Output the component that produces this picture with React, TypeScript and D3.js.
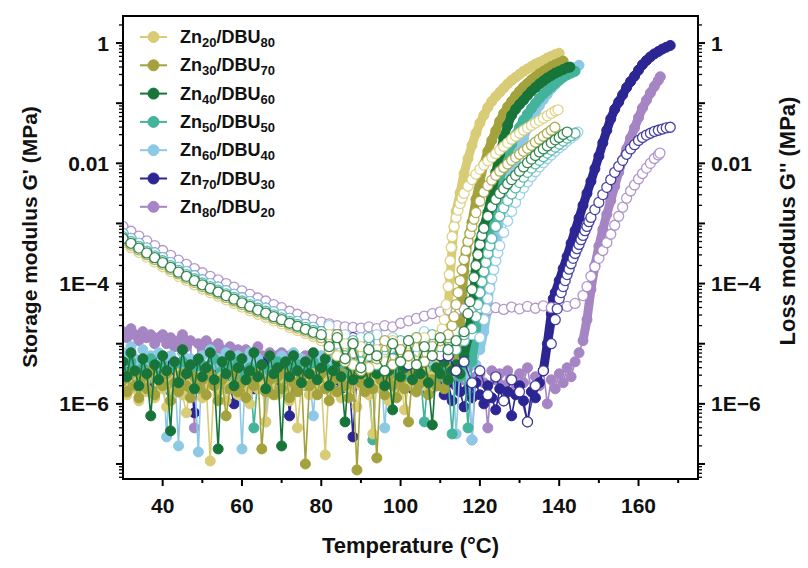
import React from 'react';
import * as d3 from 'd3';

type Pt = [number, number];

// temperature grids (°C) for the low-temperature parts
const gridT1 = [30, 31, 32, 33, 34, 35, 36, 37, 38, 39, 40, 41, 42, 43, 44, 45, 46, 47, 48, 49, 50, 51, 52, 53, 54, 55, 56, 57, 58, 59, 60, 61, 62, 63, 64, 65, 66, 67, 68, 69, 70, 71, 72, 73, 74, 75, 76, 77, 78, 79, 80, 81, 82, 83, 84, 85, 86, 87, 88, 89, 90, 91, 92, 93, 94, 95, 96, 97, 98, 99, 100, 101, 102, 103, 104, 105, 106, 107, 108, 109, 110, 111, 112, 113, 114, 115, 116, 117, 118, 119, 120, 121, 122, 123, 124, 125, 126, 127, 128, 129, 130, 131, 132, 133, 134, 135, 136, 137, 138, 139, 140, 141, 142, 143, 144, 145, 146];
const gridT2 = [30, 32, 34, 36, 38, 40, 42, 44, 46, 48, 50, 52, 54, 56, 58, 60, 62, 64, 66, 68, 70, 72, 74, 76, 78, 80, 82, 84, 86, 88, 90, 92, 94, 96, 98, 100, 102, 104, 106, 108, 110, 112, 114, 116, 118, 120, 122, 124, 126, 128, 130, 132, 134, 136, 138, 140, 142, 144, 146];

// all values: log10 of modulus in MPa
// ---- storage modulus G' (filled symbols), base on gridT1 ----
const zn20StorageBase = [-5.7, -5.85, -5.55, -5.75, -5.95, -5.6, -5.8, -5.5, -5.9, -5.65, -5.75, -6.05, -5.6, -5.8, -5.5, -5.85, -6.15, -5.65, -5.75, -5.55, -5.9, -5.7, -6.95, -5.6, -5.8, -5.55, -5.95, -5.7, -5.5, -5.85, -5.65, -5.8, -6.0, -5.55, -5.75, -5.6, -6.3, -5.7, -5.5, -5.85, -5.6, -5.75, -5.95, -5.55, -6.4, -5.7, -5.6, -5.85, -5.5, -5.75, -5.65, -6.85, -5.6, -5.8, -5.5, -5.9, -5.65, -5.75, -5.55, -6.05, -5.7, -5.5, -5.85, -6.5, -5.6, -5.75, -5.5, -5.95, -5.65, -5.8, -5.55, -6.1, -5.7, -5.5, -5.8, -5.6, -5.45, -5.75, -5.55, -5.4, -5.3];
const zn20StorageRise: Pt[] = [[111, -5.0], [112, -4.4], [112.5, -3.9], [113, -3.4], [113.5, -3.05], [114, -2.8], [115, -2.49], [116, -2.17], [117, -1.92], [118, -1.7], [119, -1.5], [120, -1.33], [121, -1.2], [122, -1.07], [123, -0.97], [124, -0.89], [125, -0.82], [126, -0.75], [127, -0.68], [128, -0.62], [129, -0.57], [130, -0.52], [131, -0.47], [132, -0.43], [133, -0.39], [134, -0.35], [135, -0.32], [136, -0.29], [137, -0.25], [138, -0.22], [139, -0.19], [140, -0.17]];

const zn30StorageBase = [-5.6, -5.8, -5.5, -5.7, -5.9, -5.55, -5.75, -5.45, -5.85, -5.6, -5.7, -5.5, -5.95, -5.65, -5.8, -5.5, -5.7, -5.9, -5.55, -5.75, -5.6, -5.85, -5.5, -5.7, -5.95, -5.6, -6.2, -5.75, -5.5, -5.8, -5.65, -5.9, -5.55, -5.7, -5.5, -6.75, -5.8, -5.6, -5.85, -5.55, -5.75, -5.5, -5.9, -5.65, -5.8, -5.55, -7.0, -5.7, -5.6, -5.85, -5.5, -5.75, -5.95, -5.6, -5.8, -5.5, -5.7, -5.9, -5.55, -7.1, -5.65, -5.8, -5.5, -5.75, -6.9, -5.6, -5.85, -5.55, -5.7, -5.9, -5.6, -5.75, -6.3, -5.5, -5.8, -5.65, -5.55, -5.85, -5.6, -5.7, -5.5, -5.75, -5.55, -5.4, -5.2];
const zn30StorageRise: Pt[] = [[115, -4.7], [115.5, -4.2], [116, -3.8], [116.5, -3.5], [117, -3.3], [117.5, -3.16], [118, -2.98], [119, -2.6], [120, -2.3], [121, -2.02], [122, -1.8], [123, -1.62], [124, -1.46], [125, -1.3], [126, -1.17], [127, -1.06], [128, -0.97], [129, -0.88], [130, -0.8], [131, -0.73], [132, -0.67], [133, -0.61], [134, -0.56], [135, -0.51], [136, -0.47], [137, -0.43], [138, -0.39], [139, -0.36], [140, -0.33], [141, -0.3]];

const zn40StorageBase = [-5.3, -5.55, -5.15, -5.45, -5.7, -5.25, -5.5, -6.2, -5.35, -5.6, -5.2, -5.45, -6.45, -5.3, -5.65, -5.1, -5.5, -5.35, -5.75, -5.25, -5.55, -5.4, -5.15, -5.6, -6.75, -5.3, -5.5, -5.2, -5.7, -5.4, -5.25, -5.6, -5.45, -5.15, -5.55, -5.35, -5.75, -5.2, -5.5, -5.4, -6.7, -5.3, -5.55, -5.2, -5.45, -5.65, -5.3, -5.5, -5.15, -5.6, -5.4, -5.25, -5.7, -5.45, -5.3, -5.55, -6.3, -5.35, -5.6, -5.2, -5.5, -5.4, -5.65, -5.25, -5.5, -5.35, -5.7, -5.45, -6.1, -5.3, -5.55, -5.4, -5.2, -5.6, -5.35, -5.5, -5.25, -5.65, -6.35, -5.4, -5.5, -5.3, -5.6, -5.45, -5.35, -5.5, -5.2];
const zn40StorageRise: Pt[] = [[117, -4.9], [118, -4.5], [118.5, -4.1], [119, -3.8], [119.5, -3.5], [120, -3.3], [121, -3.05], [122, -2.82], [123, -2.5], [124, -2.15], [125, -1.85], [126, -1.58], [127, -1.37], [128, -1.2], [129, -1.1], [130, -1.02], [131, -0.95], [132, -0.87], [133, -0.8], [134, -0.74], [135, -0.68], [136, -0.63], [137, -0.58], [138, -0.54], [139, -0.5], [140, -0.47], [141, -0.44], [142, -0.41], [142.7, -0.4]];

const zn50StorageBase = [-5.45, -5.65, -5.3, -5.55, -5.75, -5.4, -5.6, -5.25, -5.5, -5.7, -5.35, -5.55, -5.8, -5.4, -5.6, -5.3, -5.5, -5.75, -5.45, -5.6, -5.35, -5.7, -5.5, -5.25, -5.6, -5.45, -5.75, -5.4, -5.55, -5.3, -5.65, -5.5, -5.4, -6.4, -5.55, -5.35, -5.7, -5.45, -5.6, -5.3, -5.5, -5.75, -5.4, -5.6, -5.35, -5.55, -5.7, -5.45, -5.3, -5.6, -5.5, -5.4, -5.7, -5.55, -5.35, -5.6, -5.45, -5.75, -5.5, -5.4, -5.6, -5.35, -5.55, -6.6, -5.45, -5.7, -5.4, -5.6, -5.5, -5.35, -5.65, -5.45, -5.55, -5.3, -5.6, -5.5, -6.3, -5.45, -5.65, -5.4, -5.55, -5.35, -5.6, -6.5, -5.45, -5.55, -5.35, -6.4, -5.3];
const zn50StorageRise: Pt[] = [[119, -4.8], [120, -4.3], [120.5, -3.9], [121, -3.6], [122, -3.2], [123, -2.85], [124, -2.55], [125, -2.28], [126, -2.05], [127, -1.85], [128, -1.68], [129, -1.53], [130, -1.4], [131, -1.28], [132, -1.18], [133, -1.09], [134, -1.0], [135, -0.92], [136, -0.85], [137, -0.79], [138, -0.73], [139, -0.67], [140, -0.62], [141, -0.57], [142, -0.53], [143, -0.5], [144, -0.47]];

const zn60StorageBase = [-5.15, -5.3, -5.05, -5.25, -5.4, -5.1, -5.35, -5.2, -5.45, -5.15, -5.3, -6.55, -5.2, -5.4, -6.7, -5.15, -5.35, -5.25, -5.5, -6.8, -5.2, -5.4, -5.1, -5.35, -5.25, -5.5, -5.15, -5.3, -5.45, -5.2, -6.75, -5.3, -5.15, -5.4, -5.25, -5.5, -6.3, -5.2, -5.35, -5.45, -5.2, -5.3, -5.5, -5.15, -5.4, -5.25, -5.35, -5.5, -6.2, -5.3, -5.2, -5.45, -5.3, -5.15, -5.4, -5.55, -5.25, -5.35, -5.2, -5.45, -5.3, -5.5, -5.2, -5.4, -5.25, -5.35, -6.4, -5.5, -5.3, -5.2, -5.45, -5.3, -5.55, -5.25, -5.4, -5.35, -5.5, -5.2, -5.45, -5.3, -5.5, -5.35, -5.45, -5.3, -6.5, -5.4, -5.55, -5.3, -6.6, -5.35, -5.1];
const zn60StorageRise: Pt[] = [[121, -4.8], [122, -4.4], [122.5, -4.0], [123, -3.7], [124, -3.3], [125, -2.95], [126, -2.65], [127, -2.38], [128, -2.15], [129, -1.95], [130, -1.76], [131, -1.58], [132, -1.42], [133, -1.28], [134, -1.15], [135, -1.04], [136, -0.94], [137, -0.85], [138, -0.76], [139, -0.69], [140, -0.62], [141, -0.56], [142, -0.51], [143, -0.46], [144, -0.41], [145, -0.37]];

const zn70StorageBase = [-5.4, -5.6, -5.3, -5.55, -5.7, -5.35, -5.5, -5.65, -5.25, -5.45, -5.6, -5.35, -5.75, -5.45, -5.55, -5.3, -5.65, -5.5, -6.15, -5.4, -5.55, -5.7, -5.35, -5.5, -5.6, -5.3, -5.45, -5.7, -6.0, -5.5, -5.35, -5.6, -5.5, -5.75, -5.4, -5.55, -5.3, -5.65, -5.45, -5.6, -5.5, -5.35, -6.2, -5.55, -5.7, -5.4, -5.6, -5.45, -5.75, -5.5, -5.4, -5.65, -5.5, -5.35, -5.6, -5.75, -5.45, -5.55, -6.55, -5.5, -5.6, -5.4, -5.7, -5.5, -5.35, -5.65, -5.55, -5.45, -5.7, -5.5, -5.4, -5.6, -5.55, -5.75, -5.45, -5.65, -5.5, -5.8, -5.55, -5.7, -5.6, -5.85, -5.65, -5.95, -5.7, -5.8, -6.05, -5.75, -5.9, -5.65, -5.85, -6.0, -5.7, -5.9, -6.1, -5.75, -5.95, -5.8, -6.2, -5.85, -5.7, -5.95, -6.3, -5.8, -5.9, -5.65, -5.45];
const zn70StorageRise: Pt[] = [[137, -5.0], [138, -4.5], [138.5, -4.25], [139, -4.15], [140, -3.95], [141, -3.75], [142, -3.55], [143, -3.33], [144, -3.12], [145, -2.91], [146, -2.7], [147, -2.5], [148, -2.3], [149, -2.09], [150, -1.88], [151, -1.66], [152, -1.45], [153, -1.26], [154, -1.1], [155, -0.98], [156, -0.86], [157, -0.74], [158, -0.64], [159, -0.55], [160, -0.45], [161, -0.36], [162, -0.29], [163, -0.23], [164, -0.18], [165, -0.14], [166, -0.1], [167, -0.07], [168, -0.04]];

const zn80StorageBase = [-4.8, -4.9, -4.75, -4.85, -4.95, -4.8, -4.9, -4.85, -5.0, -4.9, -4.85, -5.0, -4.9, -5.05, -4.95, -4.85, -5.05, -4.95, -6.4, -5.0, -5.1, -4.95, -5.05, -5.15, -5.0, -5.1, -5.2, -5.05, -5.15, -5.1, -5.2, -5.1, -5.25, -5.15, -5.05, -5.2, -5.3, -5.15, -5.25, -5.2, -5.15, -5.3, -5.2, -5.35, -5.25, -5.3, -5.2, -5.4, -5.3, -5.25, -5.35, -5.3, -5.45, -5.3, -5.4, -5.35, -5.5, -5.3, -5.4, -5.45, -5.35, -5.5, -5.4, -5.3, -5.45, -5.55, -5.4, -5.5, -5.35, -5.45, -5.5, -5.4, -5.6, -5.45, -5.55, -5.4, -5.5, -5.65, -5.45, -5.55, -5.4, -5.6, -5.5, -5.45, -5.65, -5.5, -5.6, -5.4, -6.6, -5.55, -5.5, -5.65, -6.4, -5.45, -5.6, -5.5, -5.7, -5.45, -5.6, -5.75, -5.5, -5.65, -5.4, -5.8, -5.55, -5.7, -5.45, -6.0, -5.6, -5.75, -5.5, -5.65, -5.4, -5.55, -5.3, -5.15, -4.95];
const zn80StorageRise: Pt[] = [[147, -4.6], [148, -4.1], [149, -3.7], [150, -3.38], [151, -3.1], [152, -2.85], [153, -2.62], [154, -2.38], [155, -2.15], [156, -1.95], [157, -1.76], [158, -1.58], [159, -1.41], [160, -1.24], [161, -1.08], [162, -0.95], [163, -0.83], [164, -0.72], [165, -0.62], [165.5, -0.56]];

// ---- loss modulus G'' (open symbols), base on gridT2 ----
const zn20LossBase = [-3.32, -3.4, -3.48, -3.56, -3.64, -3.72, -3.8, -3.88, -3.95, -4.02, -4.09, -4.15, -4.21, -4.27, -4.33, -4.39, -4.45, -4.51, -4.56, -4.62, -4.67, -4.73, -4.78, -4.83, -4.88, -4.95, -4.85, -5.2, -5.0, -5.35, -5.05, -5.4, -5.1, -5.3, -4.95, -5.25, -5.0, -5.3, -4.9, -5.15, -4.85];
const zn20LossRise: Pt[] = [[110.5, -4.75], [111, -4.6], [111.5, -4.35], [112, -4.05], [112.25, -3.85], [112.5, -3.62], [112.75, -3.4], [113, -3.22], [113.5, -3.05], [114, -2.9], [114.5, -2.78], [115, -2.67], [115.5, -2.58], [116, -2.5], [117, -2.38], [118, -2.27], [119, -2.18], [120, -2.1], [121, -2.03], [122, -1.96], [123, -1.9], [124, -1.84], [125, -1.78], [126, -1.72], [127, -1.66], [128, -1.6], [129, -1.55], [130, -1.5], [131, -1.45], [132, -1.41], [133, -1.37], [134, -1.33], [135, -1.29], [136, -1.25], [137, -1.21], [138, -1.17], [139, -1.13], [139.7, -1.11]];

const zn30LossBase = [-3.28, -3.36, -3.44, -3.52, -3.6, -3.68, -3.76, -3.84, -3.91, -3.98, -4.05, -4.11, -4.17, -4.23, -4.29, -4.35, -4.41, -4.47, -4.52, -4.58, -4.63, -4.69, -4.74, -4.79, -4.84, -4.9, -5.1, -4.85, -5.3, -5.0, -5.45, -5.1, -5.25, -4.95, -5.35, -5.1, -5.2, -4.9, -5.3, -5.05, -4.95, -4.85];
const zn30LossRise: Pt[] = [[113, -4.7], [113.5, -4.55], [114, -4.35], [114.5, -4.15], [115, -3.95], [115.5, -3.77], [116, -3.6], [116.5, -3.45], [117, -3.3], [117.5, -3.17], [118, -3.05], [118.5, -2.93], [119, -2.82], [120, -2.63], [121, -2.48], [122, -2.37], [123, -2.28], [124, -2.2], [125, -2.13], [126, -2.07], [127, -2.01], [128, -1.95], [129, -1.9], [130, -1.85], [131, -1.8], [132, -1.75], [133, -1.7], [134, -1.65], [135, -1.6], [136, -1.55], [137, -1.5], [138, -1.45], [138.9, -1.4]];

const zn40LossBase = [-3.25, -3.33, -3.41, -3.49, -3.57, -3.65, -3.73, -3.81, -3.88, -3.95, -4.02, -4.08, -4.14, -4.2, -4.26, -4.32, -4.38, -4.44, -4.49, -4.55, -4.6, -4.66, -4.71, -4.76, -4.81, -4.85, -5.05, -4.9, -5.25, -5.0, -5.4, -5.1, -5.2, -5.45, -5.0, -5.3, -4.95, -5.35, -5.05, -5.2, -4.9, -5.1, -4.95, -4.8];
const zn40LossRise: Pt[] = [[117, -4.5], [117.5, -4.3], [118, -4.1], [118.5, -3.9], [119, -3.7], [119.5, -3.52], [120, -3.35], [120.5, -3.2], [121, -3.08], [122, -2.88], [123, -2.72], [124, -2.6], [125, -2.5], [126, -2.42], [127, -2.34], [128, -2.27], [129, -2.2], [130, -2.13], [131, -2.06], [132, -1.99], [133, -1.93], [134, -1.87], [135, -1.81], [136, -1.76], [137, -1.71], [138, -1.66], [139, -1.61], [140, -1.57], [141, -1.52], [142, -1.48]];

const zn50LossBase = [-3.22, -3.3, -3.38, -3.46, -3.54, -3.62, -3.7, -3.78, -3.85, -3.92, -3.99, -4.05, -4.11, -4.17, -4.23, -4.29, -4.35, -4.41, -4.46, -4.52, -4.57, -4.63, -4.68, -4.73, -4.78, -4.8, -5.0, -4.85, -5.2, -4.95, -5.3, -4.9, -5.35, -5.05, -5.25, -4.95, -5.2, -4.9, -5.15, -4.85, -5.05, -4.9, -5.1, -4.85, -4.75];
const zn50LossRise: Pt[] = [[119, -4.55], [119.5, -4.35], [120, -4.15], [120.5, -3.97], [121, -3.8], [121.5, -3.65], [122, -3.5], [122.5, -3.37], [123, -3.25], [124, -3.05], [125, -2.88], [126, -2.74], [127, -2.62], [128, -2.51], [129, -2.41], [130, -2.32], [131, -2.23], [132, -2.15], [133, -2.08], [134, -2.01], [135, -1.95], [136, -1.89], [137, -1.83], [138, -1.78], [139, -1.73], [140, -1.68], [141, -1.63], [142, -1.58], [143, -1.54], [144, -1.5]];

const zn60LossBase = [-3.17, -3.25, -3.33, -3.41, -3.49, -3.57, -3.65, -3.73, -3.8, -3.87, -3.94, -4.0, -4.06, -4.12, -4.18, -4.24, -4.3, -4.36, -4.41, -4.47, -4.52, -4.58, -4.63, -4.68, -4.73, -4.8, -4.7, -5.0, -4.85, -5.15, -4.9, -5.2, -4.85, -5.1, -4.9, -5.25, -4.95, -5.05, -4.8, -5.0, -4.85, -5.1, -4.8, -4.95, -4.85, -4.9];
const zn60LossRise: Pt[] = [[121, -4.6], [121.5, -4.42], [122, -4.25], [122.5, -4.08], [123, -3.92], [123.5, -3.77], [124, -3.62], [124.5, -3.49], [125, -3.37], [126, -3.15], [127, -2.96], [128, -2.8], [129, -2.65], [130, -2.52], [131, -2.41], [132, -2.31], [133, -2.22], [134, -2.14], [135, -2.06], [136, -1.99], [137, -1.92], [138, -1.86], [139, -1.8], [140, -1.74], [141, -1.69], [142, -1.63], [143, -1.58], [144, -1.53], [144.7, -1.48]];

const zn70LossBase = [-3.17, -3.25, -3.33, -3.41, -3.49, -3.57, -3.65, -3.73, -3.8, -3.87, -3.94, -4.0, -4.06, -4.12, -4.18, -4.24, -4.3, -4.36, -4.41, -4.47, -4.52, -4.58, -4.63, -4.68, -4.73, -4.8, -5.0, -4.85, -5.15, -4.9, -5.2, -5.0, -5.3, -5.05, -5.25, -5.1, -5.35, -5.0, -5.3, -5.1, -5.2, -5.2, -5.45, -5.3, -5.65, -5.45, -5.85, -5.55, -5.95, -5.6, -5.8, -6.3, -5.7, -5.45, -5.0];
const zn70LossRise: Pt[] = [[139, -4.6], [139.5, -4.42], [140, -4.25], [140.5, -4.15], [141, -4.05], [141.5, -3.95], [142, -3.85], [142.5, -3.76], [143, -3.67], [143.5, -3.58], [144, -3.5], [144.5, -3.42], [145, -3.35], [145.5, -3.27], [146, -3.2], [146.5, -3.12], [147, -3.05], [147.5, -2.97], [148, -2.9], [149, -2.77], [150, -2.65], [151, -2.52], [152, -2.4], [153, -2.27], [154, -2.15], [155, -2.05], [156, -1.95], [157, -1.85], [158, -1.76], [159, -1.69], [160, -1.62], [161, -1.57], [162, -1.53], [163, -1.5], [164, -1.47], [165, -1.45], [166, -1.43], [167, -1.41], [168, -1.4]];

const zn80LossBase = [-3.05, -3.13, -3.21, -3.29, -3.37, -3.45, -3.53, -3.61, -3.68, -3.75, -3.82, -3.88, -3.94, -4.0, -4.06, -4.12, -4.18, -4.24, -4.29, -4.35, -4.4, -4.46, -4.51, -4.56, -4.6, -4.64, -4.67, -4.7, -4.72, -4.73, -4.74, -4.72, -4.75, -4.7, -4.72, -4.66, -4.62, -4.58, -4.54, -4.5, -4.47, -4.44, -4.46, -4.42, -4.45, -4.41, -4.44, -4.4, -4.43, -4.39, -4.42, -4.38, -4.41, -4.37, -4.4, -4.36, -4.38, -4.33];
const zn80LossRise: Pt[] = [[146, -4.2], [147, -4.05], [148, -3.88], [149, -3.72], [150, -3.58], [151, -3.45], [152, -3.32], [153, -3.18], [154, -3.03], [155, -2.88], [156, -2.73], [157, -2.58], [158, -2.46], [159, -2.36], [160, -2.26], [161, -2.17], [162, -2.08], [163, -2.0], [164, -1.92], [165, -1.86], [165.4, -1.83]];

const seriesZn = ['20', '30', '40', '50', '60', '70', '80'];
const seriesDbu = ['80', '70', '60', '50', '40', '30', '20'];
const seriesColors = ['#D8CC76', '#A4A23C', '#18753A', '#44B39C', '#8DC9E6', '#2C2694', '#A585C3'];

const xMajorTicks = [40, 60, 80, 100, 120, 140, 160];
const xMinorTicks = [50, 70, 90, 110, 130, 150, 170];
const yLabelTicks: [number, string][] = [[0, '1'], [-2, '0.01'], [-4, '1E\u22124'], [-6, '1E\u22126']];

const X_DOMAIN: [number, number] = [30, 175];
const Y_EXP_DOMAIN: [number, number] = [-7.25, 0.45];

const FONT = "'Liberation Sans', Arial, Helvetica, sans-serif";

function onGrid(grid: number[], base: number[]): Pt[] {
  return base.map((v, i) => [grid[i], v] as Pt);
}

export default function App() {
  const W = 808, H = 568;
  const L = 123, R = 698, T = 16, B = 479;
  const x = d3.scaleLinear().domain(X_DOMAIN).range([L, R]);
  const y = d3.scaleLog().domain([Math.pow(10, Y_EXP_DOMAIN[0]), Math.pow(10, Y_EXP_DOMAIN[1])]).range([B, T]);
  const py = (e: number) => y(Math.pow(10, e));
  const line = d3.line<Pt>().x(d => x(d[0])).y(d => py(d[1]));

  const storageBase = [zn20StorageBase, zn30StorageBase, zn40StorageBase, zn50StorageBase, zn60StorageBase, zn70StorageBase, zn80StorageBase].map(b => onGrid(gridT1, b));
  const storageRise = [zn20StorageRise, zn30StorageRise, zn40StorageRise, zn50StorageRise, zn60StorageRise, zn70StorageRise, zn80StorageRise];
  const lossBase = [zn20LossBase, zn30LossBase, zn40LossBase, zn50LossBase, zn60LossBase, zn70LossBase, zn80LossBase].map(b => onGrid(gridT2, b));
  const lossRise = [zn20LossRise, zn30LossRise, zn40LossRise, zn50LossRise, zn60LossRise, zn70LossRise, zn80LossRise];

  const storage = storageBase.map((b, i) => b.concat(storageRise[i]));
  const loss = lossBase.map((b, i) => b.concat(lossRise[i]));

  const drawOrder = [6, 5, 4, 3, 0, 1, 2];

  const yMinor: number[] = [];
  for (let e = -8; e <= 0; e++) {
    for (let k = 2; k <= 9; k++) {
      const v = k * Math.pow(10, e);
      const lv = Math.log10(v);
      if (lv > Y_EXP_DOMAIN[0] && lv < Y_EXP_DOMAIN[1]) yMinor.push(v);
    }
  }
  const yMajor: number[] = [];
  for (let e = -7; e <= 0; e++) yMajor.push(Math.pow(10, e));

  const legendY0 = 37, legendDy = 28.3;

  return (
    <svg width={W} height={H} style={{ position: 'absolute', left: 0, top: 0, background: '#fff' }} fontFamily={FONT}>
      <rect x={0} y={0} width={W} height={H} fill="#fff" />
      <defs>
        <clipPath id="plotClip">
          <rect x={L} y={T} width={R - L} height={B - T} />
        </clipPath>
      </defs>
      <g clipPath="url(#plotClip)">
        {drawOrder.map(i => {
          const b = storageBase[i];
          const risePath = [b[b.length - 1]].concat(storageRise[i]);
          return (
            <g key={'s' + i}>
              <path d={line(storage[i]) || ''} fill="none" stroke={seriesColors[i]} strokeWidth={1.6} />
              <path d={line(risePath) || ''} fill="none" stroke={seriesColors[i]} strokeWidth={9} strokeLinecap="round" strokeLinejoin="round" />
              {storage[i].map((d, j) => (
                <circle key={j} cx={x(d[0])} cy={py(d[1])} r={5} fill={seriesColors[i]} stroke={seriesColors[i]} strokeWidth={1} />
              ))}
            </g>
          );
        })}
        {drawOrder.map(i => (
          <g key={'l' + i}>
            <path d={line(loss[i]) || ''} fill="none" stroke={seriesColors[i]} strokeWidth={1.4} opacity={0.85} />
            {loss[i].map((d, j) => (
              <circle key={j} cx={x(d[0])} cy={py(d[1])} r={5} fill="#fff" stroke={seriesColors[i]} strokeWidth={1.3} strokeOpacity={0.85} />
            ))}
          </g>
        ))}
      </g>

      {/* frame */}
      <rect x={L} y={T} width={R - L} height={B - T} fill="none" stroke="#000" strokeWidth={2} />

      {/* x ticks */}
      {xMajorTicks.map(t => (
        <g key={'xm' + t}>
          <line x1={x(t)} x2={x(t)} y1={B} y2={B + 7} stroke="#000" strokeWidth={2} />
          <text x={x(t)} y={B + 34} textAnchor="middle" fontSize={21} fontWeight="bold" fill="#111">{t}</text>
        </g>
      ))}
      {xMinorTicks.map(t => (
        <line key={'xn' + t} x1={x(t)} x2={x(t)} y1={B} y2={B + 4} stroke="#000" strokeWidth={2} />
      ))}

      {/* y ticks left and right */}
      {yMajor.map(v => (
        <g key={'ym' + v}>
          <line x1={L - 7} x2={L} y1={y(v)} y2={y(v)} stroke="#000" strokeWidth={2} />
          <line x1={R} x2={R + 7} y1={y(v)} y2={y(v)} stroke="#000" strokeWidth={2} />
        </g>
      ))}
      {yMinor.map(v => (
        <g key={'yn' + v}>
          <line x1={L - 4} x2={L} y1={y(v)} y2={y(v)} stroke="#000" strokeWidth={1.3} />
          <line x1={R} x2={R + 4} y1={y(v)} y2={y(v)} stroke="#000" strokeWidth={1.3} />
        </g>
      ))}
      {yLabelTicks.map(([e, lab]) => (
        <g key={'yl' + e}>
          <text x={L - 14} y={py(e) + 7.5} textAnchor="end" fontSize={21} fontWeight="bold" fill="#111">{lab}</text>
          <text x={R + 13} y={py(e) + 7.5} textAnchor="start" fontSize={21} fontWeight="bold" fill="#111">{lab}</text>
        </g>
      ))}

      {/* axis titles */}
      <text x={(L + R) / 2} y={553} textAnchor="middle" fontSize={22} fontWeight="bold" fill="#111">Temperature (°C)</text>
      <text transform="translate(37, 237) rotate(-90)" textAnchor="middle" fontSize={21} fontWeight="bold" fill="#111">Storage modulus G' (MPa)</text>
      <text transform="translate(795, 221) rotate(-90)" textAnchor="middle" fontSize={22} fontWeight="bold" fill="#111">Loss modulus G'' (MPa)</text>

      {/* legend */}
      {seriesZn.map((zn, i) => {
        const ly = legendY0 + i * legendDy;
        return (
          <g key={'lg' + i}>
            <line x1={140} x2={167} y1={ly} y2={ly} stroke={seriesColors[i]} strokeWidth={2} />
            <circle cx={153.5} cy={ly} r={5.5} fill={seriesColors[i]} stroke={seriesColors[i]} />
            <text x={180} y={ly + 6} fontSize={18} fontWeight="bold" fill="#111">
              Zn<tspan fontSize={13} dy={4}>{zn}</tspan><tspan dy={-4}>/DBU</tspan><tspan fontSize={13} dy={4}>{seriesDbu[i]}</tspan>
            </text>
          </g>
        );
      })}
    </svg>
  );
}
